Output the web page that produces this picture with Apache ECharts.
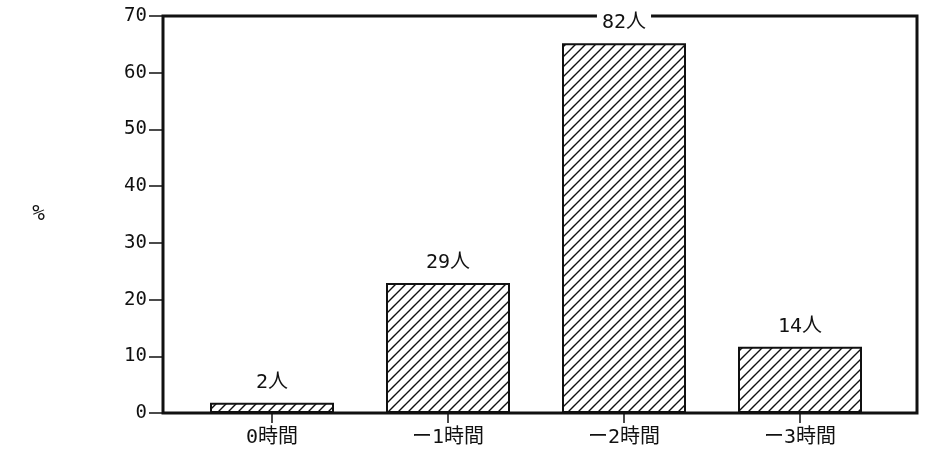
<!DOCTYPE html>
<html>
<head>
<meta charset="utf-8">
<script src="https://cdn.jsdelivr.net/npm/echarts@6/dist/echarts.min.js"></script>
<style>
  html, body { margin: 0; padding: 0; background: #fff; }
  #chart { width: 930px; height: 451px; }
</style>
</head>
<body>
<div id="chart"></div>
<script>
// data
const categories = ['0時間', 'ー1時間', 'ー2時間', 'ー3時間']
const percents = [1.8, 22.9, 65.2, 11.7]
const counts = ['2人', '29人', '82人', '14人']
const yTicks = [0, 10, 20, 30, 40, 50, 60, 70]

const FONT = '"DejaVu Sans Mono", "Noto Sans CJK JP", monospace'
const INK = '#111'

// hatch tile "////"
function hatch() {
  const c = document.createElement('canvas')
  const s = 10
  c.width = s
  c.height = s
  const ctx = c.getContext('2d')
  ctx.fillStyle = '#fff'
  ctx.fillRect(0, 0, s, s)
  ctx.strokeStyle = INK
  ctx.lineWidth = 1.4
  ctx.beginPath()
  ctx.moveTo(-1, s + 1); ctx.lineTo(s + 1, -1)
  ctx.moveTo(-2, 2); ctx.lineTo(2, -2)
  ctx.moveTo(s - 2, s + 2); ctx.lineTo(s + 2, s - 2)
  ctx.stroke()
  return c
}

const chart = echarts.init(document.getElementById('chart'))
const option = {
  animation: false,
  backgroundColor: '#fff',
  grid: [
    // frame
    { left: 163, right: 13, top: 16, bottom: 38, show: true, borderColor: INK, borderWidth: 3, backgroundColor: 'transparent' },
    // bars
    { left: 184, right: 42, top: 16, bottom: 38 }
  ],
  xAxis: [
    { gridIndex: 0, type: 'value', min: 0, max: 1, show: false },
    {
      gridIndex: 1,
      type: 'category',
      data: categories,
      axisLine: { show: false },
      axisTick: { show: true, alignWithLabel: true, length: 10, lineStyle: { color: INK, width: 1.5 } },
      axisLabel: { color: INK, fontFamily: FONT, fontSize: 20, margin: 15 }
    }
  ],
  yAxis: [
    {
      gridIndex: 0,
      type: 'value',
      min: yTicks[0],
      max: yTicks[yTicks.length - 1],
      interval: 10,
      name: '%',
      nameLocation: 'middle',
      nameRotate: 0,
      nameGap: 118,
      nameTextStyle: { color: INK, fontFamily: FONT, fontSize: 21 },
      axisLine: { show: false },
      axisTick: { show: true, length: 14, lineStyle: { color: INK, width: 1.5 } },
      axisLabel: { color: INK, fontFamily: FONT, fontSize: 19, margin: 16 },
      splitLine: { show: false }
    },
    { gridIndex: 1, type: 'value', min: 0, max: 70, show: false }
  ],
  series: [
    {
      type: 'bar',
      xAxisIndex: 1,
      yAxisIndex: 1,
      data: percents,
      barWidth: 124,
      itemStyle: {
        color: { image: hatch(), repeat: 'repeat' },
        borderColor: INK,
        borderWidth: 2
      },
      label: {
        show: true,
        position: 'top',
        distance: 10,
        formatter: (p) => counts[p.dataIndex],
        color: INK,
        fontFamily: FONT,
        fontSize: 20,
        backgroundColor: '#fff',
        padding: [0, 5]
      }
    }
  ]
}
chart.setOption(option)
</script>
</body>
</html>
